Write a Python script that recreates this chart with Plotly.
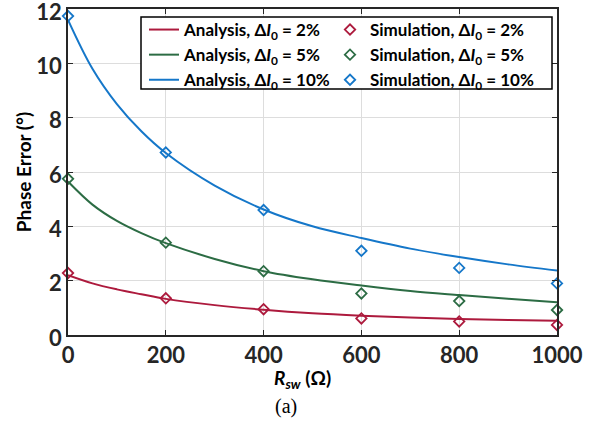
import plotly.graph_objects as go

# Analysis curves
x_an = [0, 50, 100, 150, 200, 300, 400, 500, 600, 700, 800, 900, 1000]
an_2 = [2.2, 1.9, 1.68, 1.5, 1.33, 1.1, 0.93, 0.8, 0.71, 0.64, 0.59, 0.55, 0.52]
an_5 = [5.65, 4.8, 4.2, 3.75, 3.38, 2.8, 2.35, 2.05, 1.82, 1.62, 1.47, 1.33, 1.21]
an_10 = [11.6, 9.8, 8.5, 7.5, 6.7, 5.5, 4.62, 4.0, 3.57, 3.18, 2.87, 2.6, 2.37]

# Simulation points
x_sim = [0, 200, 400, 600, 800, 1000]
sim_2 = [2.28, 1.35, 0.95, 0.61, 0.5, 0.37]
sim_5 = [5.75, 3.4, 2.35, 1.53, 1.25, 0.92]
sim_10 = [11.74, 6.72, 4.6, 3.1, 2.47, 1.9]

x_ticks = [0, 200, 400, 600, 800, 1000]
y_ticks = [0, 2, 4, 6, 8, 10, 12]

RED = "#AD1A3D"
GREEN = "#2C6C44"
BLUE = "#1577C9"
FONT = "Lato"

# plot-area pixel geometry helpers (for placing annotations/legends)
L, R, T, B = 68, 557, 9, 335
W, H = R - L, B - T
def px(xp):
    return (xp - L) / W
def py(yp):
    return (B - yp) / H

def lbl(kind, pct):
    return f"{kind}, Δ<i>I</i><sub>0</sub> = {pct}%"

fig = go.Figure()
series = [
    (an_2, sim_2, RED, 2),
    (an_5, sim_5, GREEN, 5),
    (an_10, sim_10, BLUE, 10),
]
for an, sim, col, pct in series:
    fig.add_trace(go.Scatter(
        x=x_an, y=an, mode="lines", line=dict(color=col, width=2, shape="spline"),
        name=lbl("Analysis", pct), legend="legend"))
for an, sim, col, pct in series:
    fig.add_trace(go.Scatter(
        x=x_sim, y=sim, mode="markers",
        marker=dict(symbol="diamond-open", size=8, color=col, line=dict(width=1.8, color=col)),
        name=lbl("Simulation", pct), cliponaxis=False, legend="legend2"))

axis_common = dict(
    showline=True, linecolor="#262626", linewidth=1.5, mirror="ticks",
    ticks="inside", ticklen=5, tickcolor="#262626", tickwidth=1.2,
    showgrid=True, gridcolor="#DDDDDD", gridwidth=1, zeroline=False,
    tickfont=dict(family=FONT, size=22, color="#262626", weight="bold"),
    ticklabeloverflow="allow", automargin=False,
)

legend_common = dict(
    orientation="v", xanchor="left", y=py(12), yanchor="top", itemwidth=30,
    bgcolor="rgba(0,0,0,0)", borderwidth=0, tracegroupgap=0,
    font=dict(family=FONT, size=17, color="#000000", weight="bold"),
)

fig.update_layout(
    width=599, height=422,
    margin=dict(l=L, r=599 - R, t=T, b=422 - B),
    paper_bgcolor="white", plot_bgcolor="white",
    font=dict(family=FONT, color="#000000"),
    xaxis=dict(range=[0, 1000], tickvals=x_ticks, **axis_common),
    yaxis=dict(range=[0, 12], tickvals=y_ticks, ticklabelshift=3, **axis_common,
               title=dict(text="Phase Error (°)",
                          font=dict(family=FONT, size=19, color="#000000", weight="bold"),
                          standoff=0)),
    legend=dict(x=px(144), **legend_common),
    legend2=dict(x=px(330), **legend_common),
    showlegend=True,
)

# legend frame
fig.add_shape(type="rect", xref="paper", yref="paper",
              x0=px(141), x1=px(552), y0=py(89), y1=py(17),
              fillcolor="white", line=dict(color="#000000", width=1.5), layer="above")

fig.add_annotation(text="<i>R</i><sub><i>sw</i></sub> (Ω)", xref="paper", yref="paper",
                   x=px(302), y=py(379), showarrow=False,
                   font=dict(family=FONT, size=19, color="#000000", weight="bold"),
                   xanchor="center", yanchor="middle")
fig.add_annotation(text="(a)", xref="paper", yref="paper", x=px(286), y=py(406),
                   showarrow=False, font=dict(family="Liberation Serif", size=20, color="#000000"),
                   xanchor="center", yanchor="middle")
fig.add_annotation(text="50", xref="paper", yref="paper", x=px(52), y=py(419),
                   showarrow=False, font=dict(family=FONT, size=20, color="#262626", weight="bold"),
                   xanchor="center", yanchor="top")

fig.write_html("out.html")
